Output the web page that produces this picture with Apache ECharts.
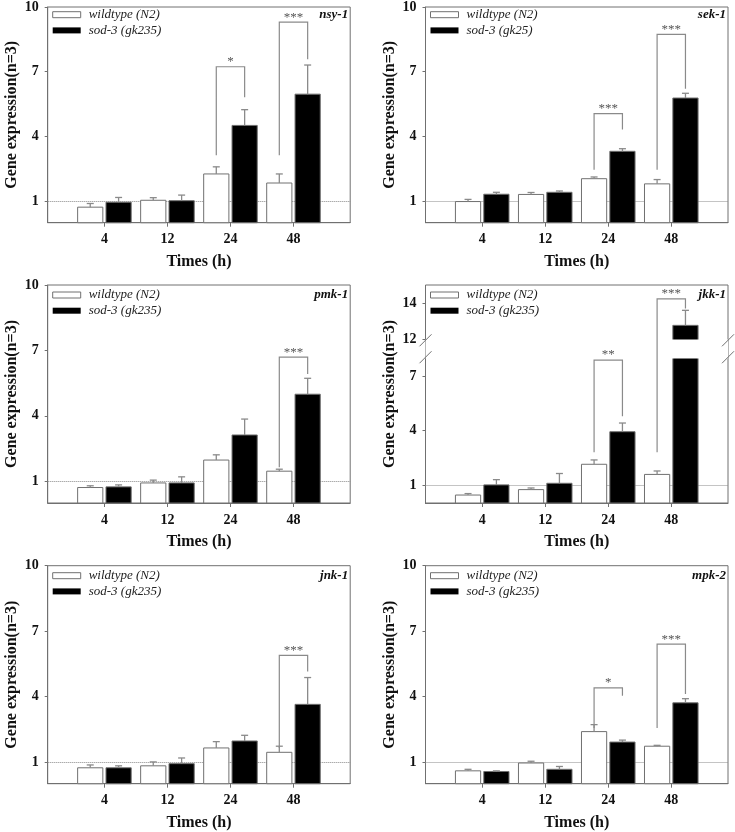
<!DOCTYPE html>
<html>
<head>
<meta charset="utf-8">
<script src="https://cdn.jsdelivr.net/npm/echarts@6/dist/echarts.min.js"></script>
<style>
  html, body { margin: 0; padding: 0; background: #fff; }
  #chart { width: 735px; height: 832px; }
</style>
</head>
<body>
<div id="chart"></div>
<script>
var times = ['4', '12', '24', '48'];
var genes = ['nsy-1', 'sek-1', 'pmk-1', 'jkk-1', 'jnk-1', 'mpk-2'];
var wtName = 'wildtype (N2)';
var mutNames = ['sod-3 (gk235)', 'sod-3 (gk25)', 'sod-3 (gk235)', 'sod-3 (gk235)', 'sod-3 (gk235)', 'sod-3 (gk235)'];
var yTicks = [1, 4, 7, 10];
var yTicksJkk = [1, 4, 7, 12, 14];

// bar heights and upper error (SE), one row per gene
var wtMean = [
  [0.72, 1.04, 2.26, 1.84],
  [0.98, 1.31, 2.04, 1.80],
  [0.71, 0.92, 1.97, 1.46],
  [0.44, 0.74, 2.14, 1.58],
  [0.73, 0.82, 1.64, 1.44],
  [0.59, 0.95, 2.39, 1.72]
];
var wtSE = [
  [0.17, 0.12, 0.33, 0.42],
  [0.10, 0.09, 0.08, 0.20],
  [0.08, 0.13, 0.24, 0.09],
  [0.08, 0.09, 0.24, 0.19],
  [0.13, 0.18, 0.29, 0.28],
  [0.07, 0.08, 0.32, 0.04]
];
var mutMean = [
  [0.95, 1.02, 4.51, 5.96],
  [1.32, 1.41, 3.31, 5.78],
  [0.74, 0.92, 3.12, 4.99],
  [1.00, 1.09, 3.94, 12.77],
  [0.73, 0.92, 1.96, 3.64],
  [0.56, 0.66, 1.91, 3.71]
];
var mutSE = [
  [0.22, 0.26, 0.73, 1.35],
  [0.09, 0.06, 0.12, 0.22],
  [0.09, 0.28, 0.73, 0.73],
  [0.29, 0.54, 0.48, 0.83],
  [0.09, 0.26, 0.26, 1.23],
  [0.03, 0.13, 0.09, 0.19]
];
// significance brackets: [time index, wt end, top, mutant end, stars]
var brackets = [
  [[2, 3.13, 7.23, 5.82, '*'], [3, 3.13, 9.30, 7.58, '***']],
  [[2, 2.45, 5.06, 4.32, '***'], [3, 2.45, 8.73, 6.21, '***']],
  [[3, 1.64, 6.69, 5.92, '***']],
  [[2, 2.80, 7.90, 4.79, '**'], [3, 2.80, 14.23, 13.70, '***']],
  [[3, 1.64, 5.89, 5.15, '***']],
  [[2, 2.55, 4.40, 4.03, '*'], [3, 2.55, 6.40, 4.11, '***']]
];

var FONT = 'Liberation Serif, Times New Roman, serif';
var colLeft = [47.7, 425.5];
var rowTop = [4.7, 285, 565.7];
var gridW = 302.5, gridH = 218;

function barRenderer(side, fill) {
  return function (params, api) {
    var x = api.value(0) + side * 0.225;
    var v = api.value(1);
    var se = api.value(2);
    var a = api.coord([x - 0.2, v]);
    var b = api.coord([x + 0.2, 0]);
    var e = api.coord([x, v + se]);
    return {
      type: 'group',
      children: [
        { type: 'rect', shape: { x: a[0], y: a[1], width: b[0] - a[0], height: b[1] - a[1] },
          style: { fill: fill, stroke: '#707070', lineWidth: 1 } },
        { type: 'line', shape: { x1: e[0], y1: a[1], x2: e[0], y2: e[1] },
          style: { stroke: '#8a8a8a', lineWidth: 1.3 } },
        { type: 'line', shape: { x1: e[0] - 3.5, y1: e[1], x2: e[0] + 3.5, y2: e[1] },
          style: { stroke: '#8a8a8a', lineWidth: 1.3 } }
      ]
    };
  };
}

function bracketRenderer(list) {
  return function (params, api) {
    var d = list[params.dataIndex];
    var x = d[0] + 1;
    var p1 = api.coord([x - 0.225, d[1]]);
    var p2 = api.coord([x - 0.225, d[2]]);
    var p3 = api.coord([x + 0.225, d[2]]);
    var p4 = api.coord([x + 0.225, d[3]]);
    return {
      type: 'group',
      children: [
        { type: 'polyline', shape: { points: [p1, p2, p3, p4] },
          style: { stroke: '#8a8a8a', lineWidth: 1.2, fill: null } },
        { type: 'text', x: (p2[0] + p3[0]) / 2, y: p2[1] - 5,
          style: { text: d[4], fontFamily: FONT, fontSize: 13, fill: '#555',
                   align: 'center', verticalAlign: 'middle' } }
      ]
    };
  };
}

var option = {
  animation: false,
  grid: [], xAxis: [], yAxis: [], title: [], legend: [], series: []
};

genes.forEach(function (gene, i) {
  var gl = colLeft[i % 2];
  var gt = rowTop[Math.floor(i / 2)];
  var isJkk = gene === 'jkk-1';
  var ticks = isJkk ? yTicksJkk : yTicks;

  option.grid.push({
    left: gl, top: gt, width: gridW, height: gridH,
    show: true, borderColor: '#707070', borderWidth: 1
  });
  option.xAxis.push({
    type: 'value', gridIndex: i, min: 0.1, max: 4.9,
    splitLine: { show: false },
    axisLine: { lineStyle: { color: '#707070' } },
    axisTick: { customValues: [1, 2, 3, 4], length: 4, lineStyle: { color: '#707070' } },
    axisLabel: {
      customValues: [1, 2, 3, 4], margin: 10,
      formatter: function (v) { return times[Math.round(v) - 1]; },
      fontFamily: FONT, fontSize: 14, fontWeight: 'bold', color: '#111'
    },
    name: 'Times (h)', nameLocation: 'middle', nameGap: 31,
    nameTextStyle: { fontFamily: FONT, fontSize: 16, fontWeight: 'bold', color: '#111' }
  });
  var yAx = {
    type: 'value', gridIndex: i, min: 0, max: isJkk ? 15 : 10,
    splitLine: { show: false },
    axisLine: { show: true, lineStyle: { color: '#707070' } },
    axisTick: { show: true, customValues: ticks, length: 3, lineStyle: { color: '#707070' } },
    axisLabel: {
      customValues: ticks, margin: 9,
      fontFamily: FONT, fontSize: 14, fontWeight: 'bold', color: '#111'
    },
    name: 'Gene expression(n=3)', nameLocation: 'middle', nameGap: 28, nameRotate: 90,
    nameTextStyle: { fontFamily: FONT, fontSize: 16, fontWeight: 'bold', color: '#111' }
  };
  if (isJkk) {
    yAx.breaks = [{ start: 8, end: 12, gap: '8.7%' }];
    yAx.breakArea = {
      show: true, expandOnClick: false, zigzagAmplitude: 0,
      itemStyle: { color: '#fff', borderColor: '#fff', borderWidth: 0, opacity: 1 }
    };
  }
  option.yAxis.push(yAx);

  option.title.push({
    text: gene, right: 735 - gl - gridW + 2, top: gt + 3.5, padding: 0,
    textStyle: { fontFamily: FONT, fontSize: 13, fontWeight: 'bold', fontStyle: 'italic', color: '#111' }
  });
  option.legend.push({
    orient: 'vertical', left: gl + 4.5, top: gt + 3.5, padding: 0,
    itemWidth: 28, itemHeight: 6, itemGap: 2.7, selectedMode: false,
    textStyle: { fontFamily: FONT, fontSize: 13, fontStyle: 'italic', color: '#222', padding: [0, 0, 0, 3] },
    data: [
      { name: wtName, icon: 'rect', itemStyle: { color: '#fff', borderColor: '#707070', borderWidth: 1 } },
      { name: mutNames[i], icon: 'rect', itemStyle: { color: '#000', borderColor: '#000', borderWidth: 0 } }
    ]
  });

  option.series.push({
    type: 'custom', name: wtName, xAxisIndex: i, yAxisIndex: i, z: 3,
    itemStyle: { color: '#fff' },
    encode: { x: 0, y: 1 },
    data: times.map(function (t, j) { return [j + 1, wtMean[i][j], wtSE[i][j]]; }),
    renderItem: barRenderer(-1, '#fff'),
    markLine: {
      silent: true, symbol: 'none', z: 1, label: { show: false },
      lineStyle: { type: 'dotted', color: '#888', width: 1 },
      data: [{ yAxis: 1 }]
    }
  });
  option.series.push({
    type: 'custom', name: mutNames[i], xAxisIndex: i, yAxisIndex: i, z: 3,
    itemStyle: { color: '#000' },
    encode: { x: 0, y: 1 },
    data: times.map(function (t, j) { return [j + 1, mutMean[i][j], mutSE[i][j]]; }),
    renderItem: barRenderer(1, '#000')
  });
  option.series.push({
    type: 'custom', name: 'sig-' + gene, xAxisIndex: i, yAxisIndex: i, z: 200,
    encode: { x: 0, y: 2 },
    data: brackets[i].map(function (d) { return [d[0] + 1, d[1], d[2], d[3]]; }),
    renderItem: bracketRenderer(brackets[i])
  });
});

var chart = echarts.init(document.getElementById('chart'));
chart.setOption(option);

// break marks on the jkk-1 frame
var jk = genes.indexOf('jkk-1');
var marks = [];
[8, 12].forEach(function (v) {
  [0.1, 4.9].forEach(function (xv) {
    var p = chart.convertToPixel({ xAxisIndex: jk, yAxisIndex: jk }, [xv, v]);
    var yy = p[1] + (v === 8 ? -1 : 1);
    marks.push({
      type: 'line', z: 200,
      shape: { x1: p[0] - 6, y1: yy + 6, x2: p[0] + 6, y2: yy - 6 },
      style: { stroke: '#707070', lineWidth: 1 }
    });
  });
});
chart.setOption({ graphic: marks });
</script>
</body>
</html>
